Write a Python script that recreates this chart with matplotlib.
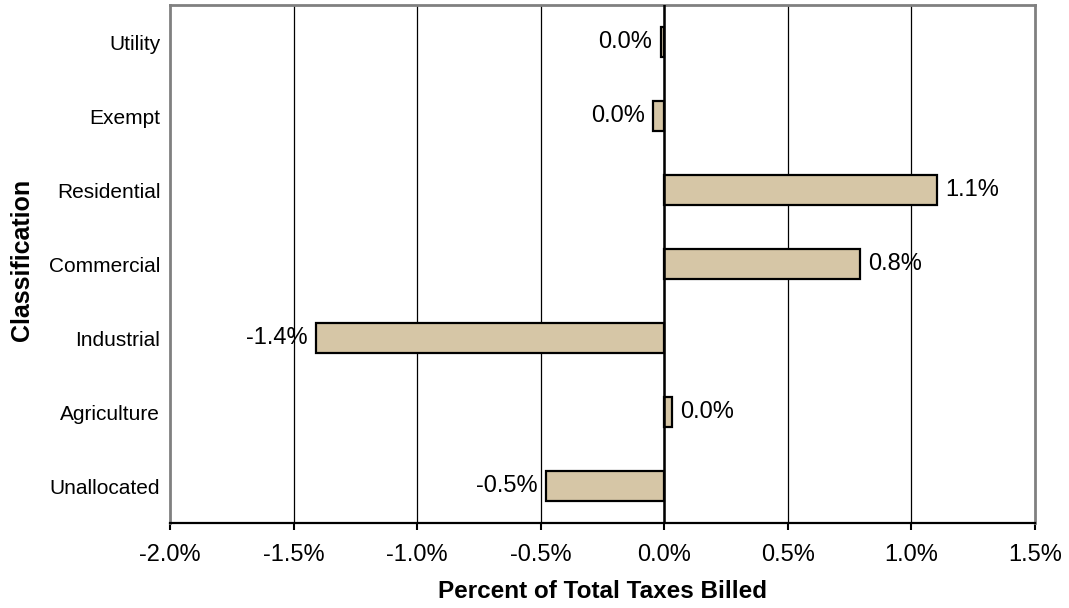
import matplotlib
matplotlib.use("Agg")
import matplotlib.pyplot as plt
from matplotlib.ticker import FuncFormatter

plt.rcParams['font.family'] = ['Liberation Sans', 'DejaVu Sans']

# Change in share of total taxes billed, by property classification (percent)
categories = ["Utility", "Exempt", "Residential", "Commercial",
              "Industrial", "Agriculture", "Unallocated"]
change_pct = [-0.015, -0.045, 1.105, 0.79, -1.41, 0.03, -0.48]

x_ticks = [-2.0, -1.5, -1.0, -0.5, 0.0, 0.5, 1.0, 1.5]

BAR_FILL = "#D6C6A6"
FRAME_GREY = "#808080"
FS_CAT = 15
FS_VAL = 17
FS_TITLE = 17.5

W, H = 1069, 608


def pct_label(v):
    s = f"{v:.1f}%"
    return "0.0%" if s == "-0.0%" else s


fig = plt.figure(figsize=(W / 100, H / 100), dpi=100)
ax = fig.add_axes([170 / W, 1 - 523 / H, (1035 - 170) / W, (523 - 5) / H])

ypos = list(range(len(categories)))
ax.barh(ypos, change_pct, height=0.405, color=BAR_FILL,
        edgecolor="black", linewidth=1.6, zorder=3)

for y, v in zip(ypos, change_pct):
    if v < 0:
        ax.annotate(pct_label(v), (v, y), xytext=(-6, 0), textcoords="offset points",
                    ha="right", va="center", fontsize=FS_VAL, zorder=4)
    else:
        ax.annotate(pct_label(v), (v, y), xytext=(6, 0), textcoords="offset points",
                    ha="left", va="center", fontsize=FS_VAL, zorder=4)

ax.set_xlim(x_ticks[0], x_ticks[-1])
ax.set_ylim(len(categories) - 0.5, -0.5)
ax.set_xticks(x_ticks)
ax.xaxis.set_major_formatter(FuncFormatter(lambda v, _: f"{v:.1f}%"))
ax.set_yticks(ypos)
ax.set_yticklabels(categories)

# vertical gridlines and zero line
for t in x_ticks[1:-1]:
    ax.axvline(t, color="black", linewidth=0.9, zorder=1)
ax.axvline(0, color="black", linewidth=1.8, zorder=3.5)

for side in ("left", "top", "right"):
    ax.spines[side].set_color(FRAME_GREY)
    ax.spines[side].set_linewidth(2)
ax.spines["bottom"].set_color("black")
ax.spines["bottom"].set_linewidth(1.6)
ax.spines["bottom"].set_zorder(5)

ax.tick_params(axis="x", direction="out", length=5, width=1.5, color="black",
               labelsize=FS_VAL, pad=10)
ax.tick_params(axis="y", length=0, labelsize=FS_CAT, pad=7)

fig.text(602 / W, 1 - 591 / H, "Percent of Total Taxes Billed", fontsize=FS_TITLE,
         fontweight="bold", ha="center", va="center")
fig.text(22 / W, 1 - 260 / H, "Classification", fontsize=18, fontweight="bold",
         rotation=90, ha="center", va="center")

fig.savefig("out.png", dpi=100)
